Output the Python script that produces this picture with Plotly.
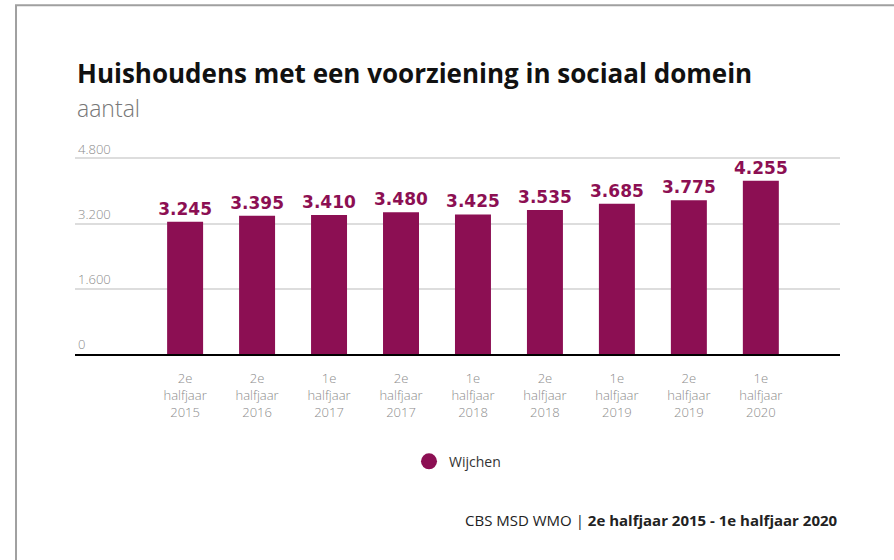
import plotly.graph_objects as go

categories = [
    "2e<br>halfjaar<br>2015", "2e<br>halfjaar<br>2016", "1e<br>halfjaar<br>2017",
    "2e<br>halfjaar<br>2017", "1e<br>halfjaar<br>2018", "2e<br>halfjaar<br>2018",
    "1e<br>halfjaar<br>2019", "2e<br>halfjaar<br>2019", "1e<br>halfjaar<br>2020",
]
values = [3245, 3395, 3410, 3480, 3425, 3535, 3685, 3775, 4255]
y_ticks = [0, 1600, 3200, 4800]
series_name = "Wijchen"

purple = "#8c0f53"
light_font = dict(family="Open Sans", size=13, color="#8c8c8c", weight=300)

fig = go.Figure()
fig.add_trace(go.Bar(
    x=categories, y=values, width=0.5,
    marker=dict(color=purple, line=dict(width=0)),
    texttemplate="%{y:,}", textposition="outside", cliponaxis=False, constraintext="none",
    textfont=dict(family="DejaVu Sans", size=17, color=purple, weight="bold"),
    showlegend=False,
))
fig.add_trace(go.Scatter(
    x=[None], y=[None], mode="markers", name=series_name,
    marker=dict(color=purple, size=16, symbol="circle"),
))

fig.update_layout(
    width=894, height=560,
    margin=dict(l=75, r=54, t=133.5, b=206),
    paper_bgcolor="white", plot_bgcolor="white",
    separators=",.",
    font=dict(family="Open Sans", color="#888"),
    showlegend=True,
    legend=dict(orientation="h", x=0.5, xanchor="center", y=-0.4898, yanchor="middle",
                font=dict(family="Open Sans", size=14, color="#333")),
    xaxis=dict(range=[-1.53, 9.1], showgrid=False, showline=True, linecolor="black",
               linewidth=1.5, ticks="", ticklabelstandoff=12, tickfont=light_font),
    yaxis=dict(range=[0, 5400], tickvals=y_ticks, tickformat=",d", showgrid=True,
               gridcolor="#dddddd", gridwidth=1.5, zeroline=False, ticks="",
               ticklabelposition="inside top", tickfont=light_font),
    annotations=[
        dict(text="<b>Huishoudens met een voorziening in sociaal domein</b>", xref="paper", yref="paper",
             x=0, y=1.2766, xanchor="left", yanchor="middle", showarrow=False,
             font=dict(family="Open Sans", size=26, color="#111")),
        dict(text="aantal", xref="paper", yref="paper", x=0, y=1.1202, xanchor="left", yanchor="middle",
             showarrow=False, font=dict(family="Open Sans", size=23, color="#777", weight=300)),
        dict(text="CBS MSD WMO | <b>2e halfjaar 2015 - 1e halfjaar 2020</b>", xref="paper", yref="paper",
             x=1, y=-0.7528, xanchor="right", yanchor="middle", showarrow=False,
             font=dict(family="Open Sans", size=15, color="#222")),
    ],
    shapes=[
        dict(type="rect", xref="paper", yref="paper", x0=-0.0771, x1=1.3, y0=-1.3, y1=1.585,
             line=dict(color="#a0a0a0", width=2), fillcolor="rgba(0,0,0,0)", layer="below"),
    ],
)

fig.write_html("out.html", config={"displayModeBar": False},
               post_script="document.body.style.margin='0';")
